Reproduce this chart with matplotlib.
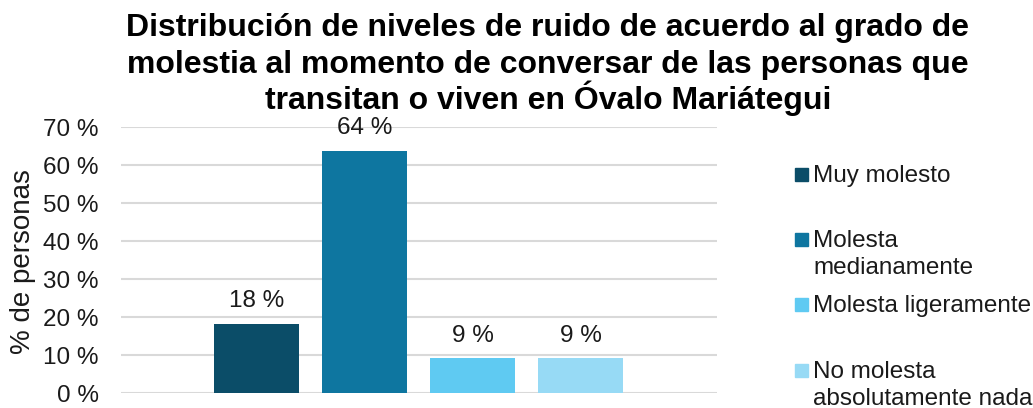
import matplotlib.pyplot as plt
from matplotlib.patches import Rectangle
from matplotlib.ticker import FuncFormatter

plt.rcParams['font.family'] = ['Liberation Sans', 'DejaVu Sans']

# data
categories = ['Muy molesto', 'Molesta\nmedianamente', 'Molesta ligeramente', 'No molesta\nabsolutamente nada']
values = [18.2, 63.7, 9.1, 9.1]
labels = ['18 %', '64 %', '9 %', '9 %']
colors = ['#0B4D68', '#0E76A0', '#5FCAF2', '#97DAF5']
yticks = [0, 10, 20, 30, 40, 50, 60, 70]
title_lines = ['Distribución de niveles de ruido de acuerdo al grado de',
               'molestia al momento de conversar de las personas que',
               'transitan o viven en Óvalo Mariátegui']

W, H = 1033, 408
fig = plt.figure(figsize=(W / 100, H / 100), dpi=100)
ax = fig.add_axes([121 / W, 1 - 393 / H, (717 - 121) / W, (393 - 127) / H])

x = range(len(values))
bars = ax.bar(x, values, width=0.79, color=colors, zorder=3)
for b, lab in zip(bars, labels):
    ax.annotate(lab, (b.get_x() + b.get_width() / 2, b.get_height()),
                xytext=(0, 12), textcoords='offset points',
                ha='center', va='baseline', fontsize=17.5, color='#1a1a1a')

ax.set_xlim(-1.255, 4.264)
ax.set_ylim(0, 70)
ax.set_yticks(yticks)
ax.yaxis.set_major_formatter(FuncFormatter(lambda v, p: f'{v:.0f} %'))
ax.tick_params(axis='y', length=0, pad=16, labelsize=17.5, labelcolor='#1a1a1a')
ax.set_xticks([])
ax.grid(axis='y', color='#D9D9D9', linewidth=1.5, zorder=0)
for s in ax.spines.values():
    s.set_visible(False)

fig.text(23 / W, 1 - 262 / H, '% de personas', rotation=90,
         ha='center', va='center', fontsize=20, color='#1a1a1a')

# title, one text per line so the accent on Ó does not push the last line down
for i, line in enumerate(title_lines):
    fig.text(548 / W, 1 - (36 + 36.5 * i) / H, line, ha='center', va='baseline',
             fontsize=23, fontweight='bold', color='black')

# legend drawn by hand: marker sits on the first line of each entry
for i, (cat, c) in enumerate(zip(categories, colors)):
    base = 181.7 + 65.3 * i
    fig.patches.append(Rectangle((795 / W, 1 - (base - 1) / H), 13 / W, 13 / H,
                                 transform=fig.transFigure, color=c))
    for k, part in enumerate(cat.split('\n')):
        fig.text(813 / W, 1 - (base + 27.3 * k) / H, part, ha='left', va='baseline',
                 fontsize=17.5, color='#1a1a1a')

fig.savefig('out.png', dpi=100)
